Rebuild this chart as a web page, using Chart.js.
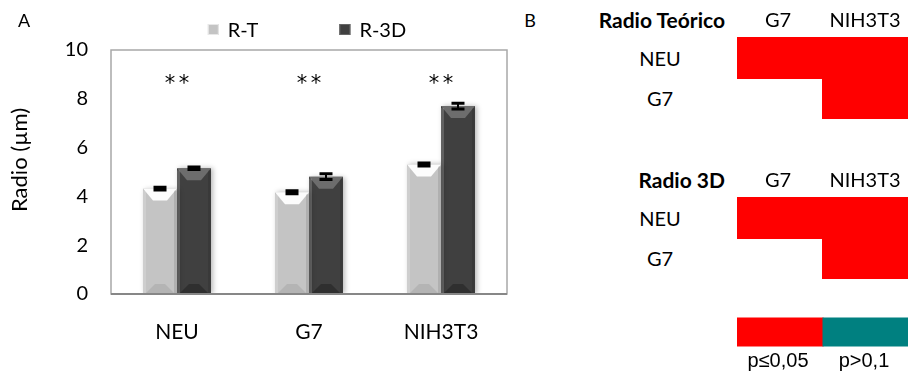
<!DOCTYPE html>
<html><head><meta charset="utf-8">
<script src="https://cdn.jsdelivr.net/npm/chart.js@4/dist/chart.umd.min.js"></script>
<style>
html,body{margin:0;padding:0;background:#fff;}
#wrap{position:relative;width:908px;height:373px;overflow:hidden;background:#fff;}
#cA{position:absolute;left:0;top:0;}
#cB{position:absolute;left:737px;top:0;}
.t{position:absolute;font-family:Lato,'Open Sans',sans-serif;font-size:20px;color:#000;transform:translate(-50%,-50%);white-space:nowrap;line-height:1;}
.b{font-weight:bold;font-size:21px;}
.r{transform:translate(-100%,-50%);}
.ar{font-family:'Liberation Sans',Arial,sans-serif;font-size:20px;}
</style></head><body>
<div id="wrap">
<canvas id="cA" width="520" height="373"></canvas>
<canvas id="cB" width="172" height="373"></canvas>
<div class="t" style="left:24px;top:20px;font-size:18px;">A</div>
<div class="t" style="left:530px;top:20px;font-size:18px;">B</div>
<div id="tabText"></div>
</div>
<script>
// ---------- Panel A data ----------
const categories = ["NEU", "G7", "NIH3T3"];
const seriesNames = ["R-T", "R-3D"];
const radioTeorico = [4.32, 4.17, 5.31];
const radio3D = [5.15, 4.81, 7.70];
const errTeorico = [0.06, 0.06, 0.06];
const err3D = [0.05, 0.12, 0.12];
const sigMarks = ["**", "**", "**"];
const sigLevel = 8.8;
const yTicks = [0, 2, 4, 6, 8, 10];
const yTitle = "Radio (µm)";

// ---------- Panel B data ----------
const tableTitles = ["Radio Teórico", "Radio 3D"];
const compRows = ["NEU", "G7"];
const compCols = ["G7", "NIH3T3"];
const pTeorico = [["p≤0,05", "p≤0,05"], [null, "p≤0,05"]];
const p3D = [["p≤0,05", "p≤0,05"], [null, "p≤0,05"]];
const pLegend = ["p≤0,05", "p>0,1"];

// ---------- styles / layout ----------
const FONT = "Lato, 'Open Sans', sans-serif";
const seriesColors = ["#c4c4c4", "#404040"];
const bevelTop = ["rgba(255,255,255,0.95)", "rgba(120,120,120,0.8)"];
const bevelBottom = ["rgba(170,170,170,0.6)", "rgba(40,40,40,0.7)"];
const pColors = {"p≤0,05": "#ff0000", "p>0,1": "#008080"};

const errPlugin = {
  id: 'extras',
  beforeDatasetsDraw(chart) {
    const ctx = chart.ctx, a = chart.chartArea;
    ctx.save();
    ctx.strokeStyle = '#a8a8a8';
    ctx.lineWidth = 1.5;
    ctx.strokeRect(a.left, a.top, a.right - a.left, a.bottom - a.top);
    ctx.restore();
  },
  beforeDatasetDraw(chart) {
    const ctx = chart.ctx;
    ctx.save();
    ctx.shadowColor = 'rgba(0,0,0,0.28)';
    ctx.shadowBlur = 5;
    ctx.shadowOffsetX = 2;
    ctx.shadowOffsetY = 0;
  },
  afterDatasetDraw(chart) {
    chart.ctx.restore();
  },
  afterDatasetsDraw(chart) {
    const ctx = chart.ctx, a = chart.chartArea;
    const ys = chart.scales.y, xs = chart.scales.x;
    const errs = [errTeorico, err3D];
    ctx.save();
    // bevels
    chart.data.datasets.forEach((ds, di) => {
      chart.getDatasetMeta(di).data.forEach((el) => {
        const p = el.getProps(['x', 'y', 'base', 'width'], true);
        const x0 = p.x - p.width / 2, x1 = p.x + p.width / 2;
        const bv = 12;
        ctx.fillStyle = bevelTop[di];
        ctx.beginPath();
        ctx.moveTo(x0, p.y); ctx.lineTo(x1, p.y);
        ctx.lineTo(x1 - bv + 2, p.y + bv); ctx.lineTo(x0 + bv - 2, p.y + bv);
        ctx.closePath(); ctx.fill();
        ctx.fillStyle = bevelBottom[di];
        ctx.beginPath();
        ctx.moveTo(x0 + 2, p.base); ctx.lineTo(x1 - 2, p.base);
        ctx.lineTo(x1 - bv, p.base - bv + 2); ctx.lineTo(x0 + bv, p.base - bv + 2);
        ctx.closePath(); ctx.fill();
        ctx.fillStyle = 'rgba(255,255,255,0.18)';
        ctx.fillRect(x0, p.y + 2, 3, p.base - p.y - 2);
        ctx.fillStyle = 'rgba(0,0,0,0.10)';
        ctx.fillRect(x1 - 3, p.y + 2, 3, p.base - p.y - 2);
      });
    });
    // bottom axis line
    ctx.strokeStyle = '#878787';
    ctx.lineWidth = 2;
    ctx.beginPath(); ctx.moveTo(a.left, a.bottom); ctx.lineTo(a.right, a.bottom); ctx.stroke();
    // error bars
    ctx.strokeStyle = '#000';
    chart.data.datasets.forEach((ds, di) => {
      chart.getDatasetMeta(di).data.forEach((el, i) => {
        const v = ds.data[i], e = errs[di][i];
        const yt = ys.getPixelForValue(v + e), yb = ys.getPixelForValue(v - e);
        const cx = el.x, hw = 6.5;
        ctx.lineWidth = 2;
        ctx.beginPath();
        ctx.moveTo(cx, yt); ctx.lineTo(cx, yb);
        ctx.stroke();
        ctx.lineWidth = 3;
        ctx.beginPath();
        ctx.moveTo(cx - hw, yt); ctx.lineTo(cx + hw, yt);
        ctx.moveTo(cx - hw, yb); ctx.lineTo(cx + hw, yb);
        ctx.stroke();
      });
    });
    // significance marks
    ctx.fillStyle = '#000';
    ctx.font = "21px 'DejaVu Sans', sans-serif";
    ctx.textAlign = 'center';
    ctx.textBaseline = 'middle';
    sigMarks.forEach((m, i) => {
      const cx = xs.getPixelForValue(i), cy = ys.getPixelForValue(sigLevel) + 5;
      const chars = m.split('');
      chars.forEach((ch, k) => {
        ctx.fillText(ch, cx + (k - (chars.length - 1) / 2) * 14, cy);
      });
    });
    // legend
    ctx.font = "20px " + FONT;
    ctx.textAlign = 'left';
    const box = 11, g1 = 9, g2 = 81;
    const w = seriesNames.map(s => ctx.measureText(s).width);
    const total = box + g1 + w[0] + g2 + box + g1 + w[1];
    let lx = (a.left + a.right) / 2 - total / 2 - 2;
    const ly = 29.5;
    seriesNames.forEach((s, i) => {
      ctx.fillStyle = seriesColors[i];
      ctx.fillRect(lx, ly - box / 2, box, box);
      ctx.strokeStyle = i === 0 ? '#e8e8e8' : '#666';
      ctx.lineWidth = 1;
      ctx.strokeRect(lx + 0.5, ly - box / 2 + 0.5, box - 1, box - 1);
      ctx.fillStyle = '#000';
      ctx.fillText(s, lx + box + g1, ly + 1);
      lx += box + g1 + w[i] + g2;
    });
    // y title
    ctx.save();
    ctx.translate(20, 160);
    ctx.rotate(-Math.PI / 2);
    ctx.textAlign = 'center';
    ctx.font = "22px " + FONT;
    ctx.fillText(yTitle, 0, 0);
    ctx.restore();
    ctx.restore();
  }
};

new Chart(document.getElementById('cA'), {
  type: 'bar',
  data: {
    labels: categories,
    datasets: [
      {label: seriesNames[0], data: radioTeorico, backgroundColor: seriesColors[0], borderWidth: 0},
      {label: seriesNames[1], data: radio3D, backgroundColor: seriesColors[1], borderWidth: 0}
    ]
  },
  options: {
    responsive: false, animation: false, devicePixelRatio: 1,
    layout: {padding: {left: 0, right: 13, top: 50, bottom: 0}},
    datasets: {bar: {categoryPercentage: 0.515, barPercentage: 1}},
    plugins: {legend: {display: false}, tooltip: {enabled: false}},
    scales: {
      x: {
        grid: {display: false}, border: {display: false},
        ticks: {color: '#000', font: {family: FONT, size: 21}, padding: 18},
        afterFit(s) { s.height = 79; }
      },
      y: {
        min: 0, max: 10,
        afterBuildTicks(s) { s.ticks = yTicks.map(v => ({value: v})); },
        grid: {display: false, drawTicks: false}, border: {display: false},
        ticks: {color: '#000', font: {family: FONT, size: 20}, padding: 23},
        afterFit(s) { s.width = 111; }
      }
    }
  },
  plugins: [errPlugin]
});

// ---------- Panel B ----------
const rowLayout = {tables: [[0, 1], [4, 5]], legend: 6.85};
const cellData = [], cellColors = [];
[pTeorico, p3D].forEach((m, t) => {
  m.forEach((row, r) => row.forEach((p, c) => {
    if (p) { cellData.push({x: [c, c + 1], y: rowLayout.tables[t][r]}); cellColors.push(pColors[p]); }
  }));
});
const legData = pLegend.map((p, i) => ({x: [i, i + 1], y: rowLayout.legend}));

new Chart(document.getElementById('cB'), {
  type: 'bar',
  data: {
    datasets: [
      {data: cellData, backgroundColor: cellColors, borderWidth: 0, inflateAmount: 1, grouped: false, barThickness: 40},
      {data: legData, backgroundColor: pLegend.map(p => pColors[p]), borderWidth: 0, inflateAmount: 0.5, grouped: false, barThickness: 28}
    ]
  },
  options: {
    indexAxis: 'y', responsive: false, animation: false, devicePixelRatio: 1,
    layout: {padding: 0},
    plugins: {legend: {display: false}, tooltip: {enabled: false}},
    scales: {
      x: {type: 'linear', min: 0, max: 2, display: false, offset: false},
      y: {type: 'linear', min: -1.45, max: 7.875, reverse: true, display: false, offset: false, grid: {offset: false}}
    }
  }
});

// Panel B text
const tt = document.getElementById('tabText');
function addText(txt, x, y, cls) {
  const d = document.createElement('div');
  d.className = 't ' + (cls || '');
  d.style.left = x + 'px'; d.style.top = y + 'px';
  d.textContent = txt;
  tt.appendChild(d);
}
const headerY = [19, 179], rowY = [[58, 98], [218, 258]];
const colX = [778, 865];
tableTitles.forEach((title, t) => {
  addText(title, 725, headerY[t], 'b r');
  compCols.forEach((c, ci) => addText(c, colX[ci], headerY[t]));
  compRows.forEach((r, ri) => addText(r, 660, rowY[t][ri]));
});
pLegend.forEach((p, i) => addText(p, [778, 864][i], 360, 'ar'));
</script>
</body></html>
